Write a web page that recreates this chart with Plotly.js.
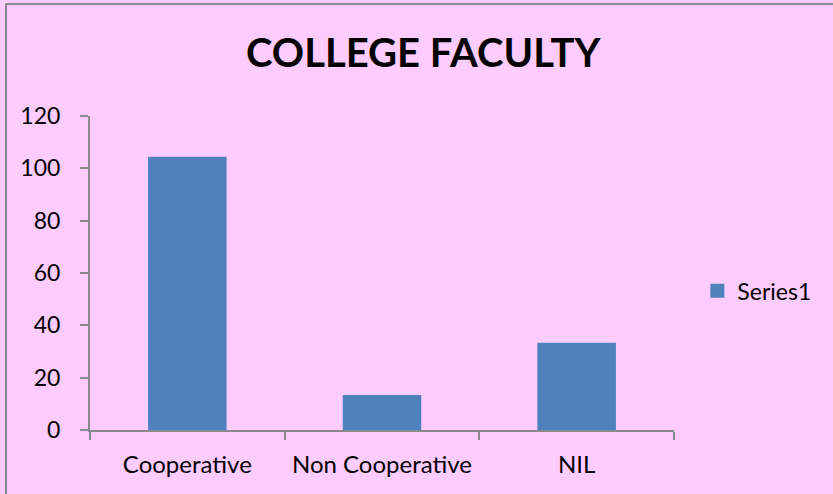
<!DOCTYPE html>
<html>
<head>
<meta charset="utf-8">
<script src="https://cdn.plot.ly/plotly-3.0.1.min.js"></script>
<style>
html,body{margin:0;padding:0;background:#FFCCFF;}
#chart{width:833px;height:494px;position:relative;}
#frame{position:absolute;left:5px;top:3px;width:840px;height:500px;border-left:2px solid #8a8a8a;border-top:2px solid #8a8a8a;pointer-events:none;}
</style>
</head>
<body>
<div id="chart"></div>
<div id="frame"></div>
<script>
var categories = ["Cooperative", "Non Cooperative", "NIL"];
var series1 = [104, 13, 33];
var seriesName = "Series1";
var chartTitle = "COLLEGE FACULTY";
var yTicks = [0, 20, 40, 60, 80, 100, 120];

var font = "Lato, 'Open Sans', sans-serif";
var axisColor = "#8a8a8a";

var data = [{
  type: "bar",
  x: categories,
  y: series1,
  name: seriesName,
  marker: {color: "#4F81BD", line: {color: "#4F81BD", width: 2}},
  width: 0.393,
  showlegend: true
}];

var layout = {
  width: 833,
  height: 494,
  paper_bgcolor: "#FFCCFF",
  plot_bgcolor: "#FFCCFF",
  margin: {l: 90, r: 159, t: 116, b: 64},
  title: {
    text: "<b>" + chartTitle + "</b>",
    font: {family: font, size: 40, color: "#000"},
    x: 0.508, xanchor: "center",
    y: 0.893, yanchor: "middle", yref: "container"
  },
  xaxis: {
    type: "category",
    showline: true, linecolor: axisColor, linewidth: 2,
    ticks: "outside", tickson: "boundaries", ticklen: 8, tickcolor: axisColor, tickwidth: 2,
    tickfont: {family: font, size: 24, color: "#000"},
    showgrid: false, zeroline: false,
    ticklabelstandoff: 12,
    fixedrange: true
  },
  yaxis: {
    range: [0, 120],
    tickvals: yTicks,
    showline: true, linecolor: axisColor, linewidth: 2,
    ticks: "outside", ticklen: 8, tickcolor: axisColor, tickwidth: 2,
    tickfont: {family: font, size: 23, color: "#000"},
    showgrid: false, zeroline: false,
    ticklabelstandoff: 15,
    fixedrange: true
  },
  legend: {
    x: 1.04, xanchor: "left",
    y: 0.443, yanchor: "middle",
    font: {family: font, size: 23, color: "#000"},
    bgcolor: "rgba(0,0,0,0)"
  },
  showlegend: true
};

Plotly.newPlot("chart", data, layout, {displayModeBar: false, staticPlot: true});
</script>
</body>
</html>
